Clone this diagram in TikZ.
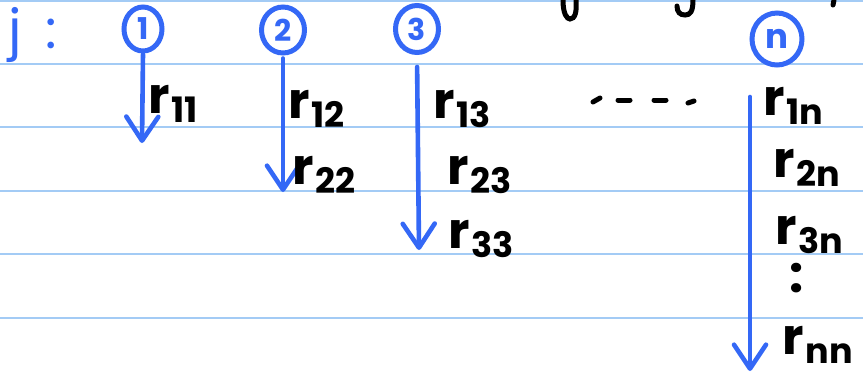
\documentclass[tikz,border=0pt]{standalone}
\usepackage{fontspec}
\setmainfont{Poppins}
\usetikzlibrary{arrows.meta,shapes.geometric}
\definecolor{ink}{RGB}{52,104,246}
\definecolor{rule}{RGB}{163,203,245}
\newcommand{\rsub}[1]{r\kern2pt\raisebox{-9pt}{\fontsize{35}{35}\selectfont #1}}
\tikzset{
  ruleline/.style={draw=rule,line width=2.2pt},
  colnum/.style={ellipse,draw=ink,line width=5pt,text=ink,inner sep=0pt,font=\bfseries\fontsize{30}{30}\selectfont},
  colarrow/.style={draw=ink,line width=4.6pt,line cap=round,-{Straight Barb[length=24pt,width=32pt,round]}},
  entry/.style={anchor=base west,inner sep=0pt,font=\bfseries\fontsize{50}{50}\selectfont},
  pen/.style={draw=black,line width=5pt,line cap=round},
}
\begin{document}
\begin{tikzpicture}[x=1pt,y=-1pt]
\fill[white] (0,0) rectangle (863,375);
\useasboundingbox (0,0) rectangle (863,375);
% ruled paper
\foreach \yy in {1,64,127,191,254,318} \draw[ruleline] (0,\yy) -- (863,\yy);
% cut-off handwriting at top
\draw[pen] (563,0) .. controls (563,14) and (567,19) .. (570,19) .. controls (575,19) and (577,12) .. (576,0);
\draw[pen] (693,0) .. controls (693,12) and (690,15) .. (685,15) .. controls (680,15) and (677,12) .. (677,6);
\draw[pen] (834,0) -- (833,5);
% j :
\node[anchor=base west,inner sep=0pt,text=ink,font=\fontsize{54}{54}\selectfont] (jlab) at (8,48) {j\hspace{24pt}:};
% column numbers
\node[colnum,minimum width=38pt,minimum height=44pt] (c1) at (143,29) {1};
\node[colnum,minimum width=43pt,minimum height=46pt] (c2) at (283,30) {2};
\node[colnum,minimum width=43pt,minimum height=47pt] (c3) at (417,29) {3};
\node[colnum,minimum width=50pt,minimum height=52pt,font=\bfseries\fontsize{34}{34}\selectfont] (cn) at (777,39) {n};
% arrow end points
\coordinate (e1) at (142,143);
\coordinate (e2) at (283,192);
\coordinate (e3) at (419,250);
\coordinate (sn) at (750,97);
\coordinate (en) at (750,371);
\draw[colarrow,shorten <=1pt] (c1.south) -- (e1);
\draw[colarrow,shorten <=3pt] (c2.south) -- (e2);
\draw[colarrow,shorten <=12pt] (c3.south) -- (e3);
\draw[colarrow] (sn) -- (en);
% entries
\node[entry] (r11) at (148,113) {\rsub{11}};
\node[entry] (r12) at (288,118) {\rsub{12}};
\node[entry] (r22) at (292,184) {\rsub{22}};
\node[entry] (r13) at (433,118) {\rsub{13}};
\node[entry] (r23) at (447,184) {\rsub{23}};
\node[entry] (r33) at (448,248) {\rsub{33}};
\node[entry] (r1n) at (763,115) {\rsub{1n}};
\node[entry] (r2n) at (773,177) {\rsub{2n}};
\node[entry] (r3n) at (775,244) {\rsub{3n}};
\node[entry] (vd) at (789,292) {:};
\node[entry] (rnn) at (782,354) {\rsub{nn}};
% dashes
\draw[pen] (593,102) -- (600,98);
\draw[pen] (618,100) -- (630,100);
\draw[pen] (654,100) -- (666,100);
\draw[pen] (688,103) -- (694,101);
\end{tikzpicture}
\end{document}
